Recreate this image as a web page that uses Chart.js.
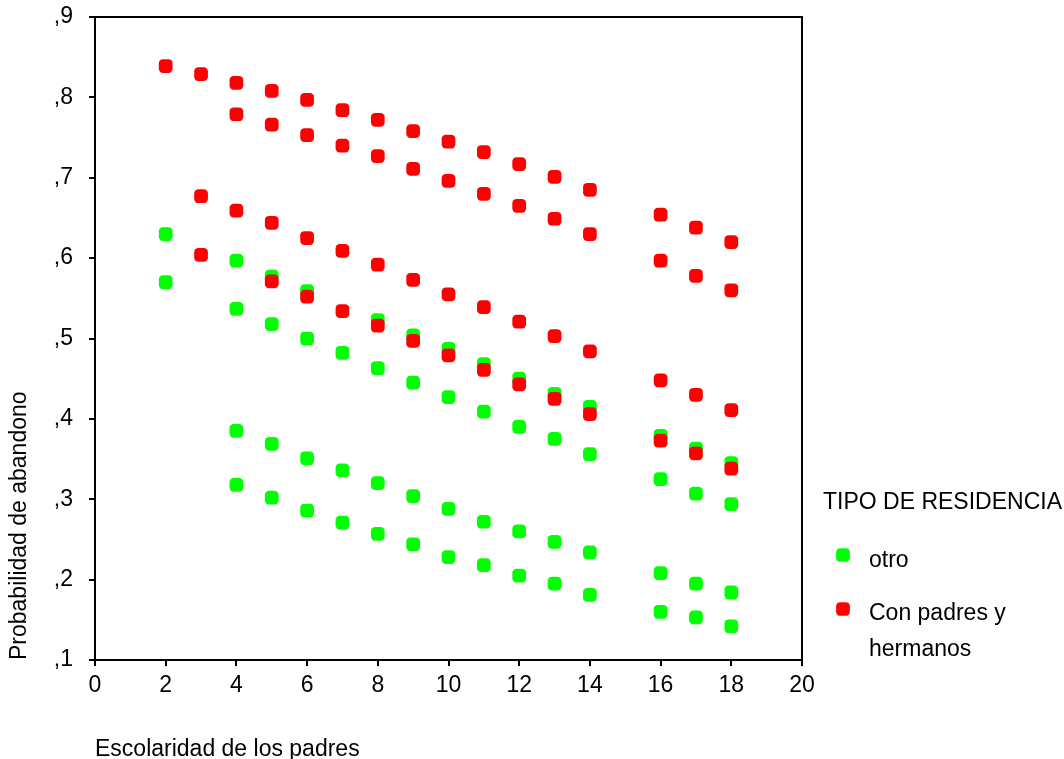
<!DOCTYPE html>
<html>
<head>
<meta charset="utf-8">
<script src="https://cdn.jsdelivr.net/npm/chart.js@4/dist/chart.umd.min.js"></script>
<style>
  html, body { margin: 0; padding: 0; background: #fff; }
  #wrap { width: 1064px; height: 759px; position: relative; }
</style>
</head>
<body>
<div id="wrap"><canvas id="c"></canvas></div>
<script>
// Escolaridad de los padres (x) and probabilidad de abandono (y)
// TIPO DE RESIDENCIA = Con padres y hermanos (red), four bands
const rojoX1 = [2, 3, 4, 5, 6, 7, 8, 9, 10, 11, 12, 13, 14, 16, 17, 18];
const rojoY1 = [.839, .829, .818, .808, .797, .784, .772, .758, .745, .732, .717, .701, .685, .654, .638, .620];
const rojoX2 = [4, 5, 6, 7, 8, 9, 10, 11, 12, 13, 14, 16, 17, 18];
const rojoY2 = [.779, .766, .753, .740, .727, .711, .696, .680, .665, .649, .630, .597, .578, .560];
const rojoX3 = [3, 4, 5, 6, 7, 8, 9, 10, 11, 12, 13, 14, 16, 17, 18];
const rojoY3 = [.677, .659, .644, .625, .609, .592, .573, .555, .539, .521, .503, .484, .448, .430, .411];
const rojoX4 = [3, 5, 6, 7, 8, 9, 10, 11, 12, 13, 14, 16, 17, 18];
const rojoY4 = [.604, .571, .552, .534, .516, .497, .479, .461, .443, .425, .406, .373, .357, .338];

// TIPO DE RESIDENCIA = otro (green), four bands
const verdeX1 = [2, 4, 5, 6, 8, 9, 10, 11, 12, 13, 14, 16, 17, 18];
const verdeY1 = [.630, .597, .577, .559, .523, .504, .487, .468, .450, .431, .415, .379, .363, .345];
const verdeX2 = [2, 4, 5, 6, 7, 8, 9, 10, 11, 12, 13, 14, 16, 17, 18];
const verdeY2 = [.570, .537, .518, .500, .482, .463, .445, .427, .409, .390, .375, .356, .325, .307, .294];
const verdeX3 = [4, 5, 6, 7, 8, 9, 10, 11, 12, 13, 14, 16, 17, 18];
const verdeY3 = [.385, .369, .351, .336, .320, .304, .288, .272, .260, .247, .234, .208, .195, .184];
const verdeX4 = [4, 5, 6, 7, 8, 9, 10, 11, 12, 13, 14, 16, 17, 18];
const verdeY4 = [.318, .302, .286, .271, .257, .244, .228, .218, .205, .195, .181, .160, .153, .142];

const categorias = ['otro', 'Con padres y hermanos'];
const colores = ['#00ff00', '#ff0000'];
const xTicks = [0, 2, 4, 6, 8, 10, 12, 14, 16, 18, 20];
const yTicks = [.1, .2, .3, .4, .5, .6, .7, .8, .9];

const FONT = '"Liberation Sans", Arial, sans-serif';
const FSIZE = 23;

// pair up x and y lists into points
const puntos = (pares) => pares.flatMap(([xs, ys]) => xs.map((x, i) => ({ x: x, y: ys[i] })));

const verde = puntos([[verdeX1, verdeY1], [verdeX2, verdeY2], [verdeX3, verdeY3], [verdeX4, verdeY4]]);
const rojo = puntos([[rojoX1, rojoY1], [rojoX2, rojoY2], [rojoX3, rojoY3], [rojoX4, rojoY4]]);

// frame around the plot area and the legend on the right
const marco = {
  id: 'marco',
  afterDraw(chart) {
    const { ctx, chartArea: a } = chart;
    ctx.save();
    ctx.strokeStyle = '#000';
    ctx.lineWidth = 2;
    ctx.strokeRect(a.left, a.top, a.right - a.left, a.bottom - a.top);

    ctx.fillStyle = '#000';
    ctx.font = FSIZE + 'px ' + FONT;
    ctx.textBaseline = 'middle';
    ctx.textAlign = 'left';
    ctx.fillText('TIPO DE RESIDENCIA', 823, 503);

    const filas = [
      { y: 555, lineas: ['otro'], ty: 561 },
      { y: 609, lineas: ['Con padres y', 'hermanos'], ty: 614 }
    ];
    filas.forEach((f, i) => {
      ctx.fillStyle = colores[i];
      Chart.helpers.drawPoint(ctx, { pointStyle: 'rectRounded', radius: 8, rotation: 0, borderWidth: 0 }, 843, f.y);
      ctx.fillStyle = '#000';
      f.lineas.forEach((t, j) => ctx.fillText(t, 869, f.ty + j * 36));
    });
    ctx.restore();
  }
};

new Chart(document.getElementById('c'), {
  type: 'scatter',
  data: {
    datasets: [
      { label: categorias[0], data: verde, backgroundColor: colores[0], borderColor: colores[0], order: 1 },
      { label: categorias[1], data: rojo, backgroundColor: colores[1], borderColor: colores[1], order: 0 }
    ]
  },
  options: {
    responsive: true,
    maintainAspectRatio: false,
    animation: false,
    layout: { padding: { left: 0, top: 17, right: 262, bottom: 0 } },
    elements: {
      point: { pointStyle: 'rectRounded', radius: 8, borderWidth: 0, hoverRadius: 8 }
    },
    plugins: {
      legend: { display: false },
      tooltip: { enabled: false }
    },
    scales: {
      x: {
        type: 'linear',
        min: 0,
        max: 20,
        afterFit: (s) => { s.height = 99; s.paddingLeft = 0; s.paddingRight = 0; },
        afterBuildTicks: (s) => { s.ticks = xTicks.map(v => ({ value: v })); },
        ticks: { color: '#000', font: { family: FONT, size: FSIZE }, padding: 6, maxRotation: 0 },
        grid: { drawOnChartArea: false, drawTicks: true, tickLength: 6, color: '#000', lineWidth: 2 },
        border: { display: true, color: '#000', width: 2 },
        title: {
          display: true,
          text: 'Escolaridad de los padres',
          align: 'start',
          color: '#000',
          font: { family: FONT, size: FSIZE },
          padding: { top: 0, bottom: -4 }
        }
      },
      y: {
        type: 'linear',
        min: 0.1,
        max: 0.9,
        afterFit: (s) => { s.width = 95; s.paddingTop = 0; s.paddingBottom = 0; },
        afterBuildTicks: (s) => { s.ticks = yTicks.map(v => ({ value: v })); },
        ticks: {
          color: '#000',
          font: { family: FONT, size: FSIZE },
          padding: 16,
          callback: (v) => ',' + Math.round(v * 10)
        },
        grid: { drawOnChartArea: false, drawTicks: true, tickLength: 6, color: '#000', lineWidth: 2 },
        border: { display: true, color: '#000', width: 2 },
        title: {
          display: true,
          text: 'Probabilidad de abandono',
          align: 'start',
          color: '#000',
          font: { family: FONT, size: FSIZE },
          padding: { top: 6, bottom: 0 }
        }
      }
    }
  },
  plugins: [marco]
});
</script>
</body>
</html>
